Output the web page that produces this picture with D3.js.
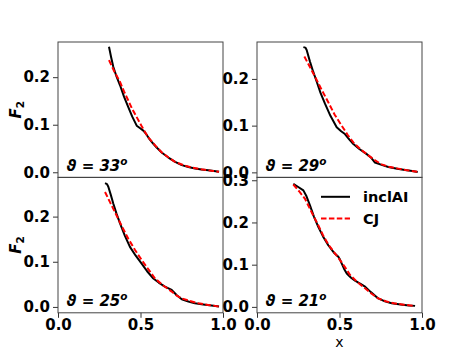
<!DOCTYPE html>
<html><head><meta charset="utf-8">
<script src="https://cdn.jsdelivr.net/npm/d3@7"></script>
<style>
body{margin:0;background:#fff;}
text{font-family:"DejaVu Sans",sans-serif;}
</style></head>
<body><svg id="c" width="469" height="352"></svg>
<script>
// ---- data ----
const angles = ["33", "29", "25", "21"];
const xTicks = [0.0, 0.5, 1.0];
const yTicksA = [0.0, 0.1, 0.2];
const yTicksB = [0.0, 0.1, 0.2, 0.3];
const yLims = [[-0.011, 0.274], [-0.011, 0.279], [-0.013, 0.287], [-0.014, 0.307]];

const incl33_x = [0.309,0.322,0.335,0.355,0.376,0.40,0.426,0.45,0.477,0.50,0.517,0.535,0.55,0.575,0.598,0.63,0.669,0.71,0.75,0.79,0.83,0.87,0.911,0.945,0.976];
const incl33_y = [0.264,0.242,0.222,0.201,0.183,0.159,0.137,0.117,0.098,0.092,0.0877,0.080,0.072,0.061,0.052,0.041,0.031,0.022,0.015,0.011,0.0078,0.0058,0.0042,0.0028,0.001];
const cj33_x = [0.309,0.34,0.376,0.40,0.426,0.45,0.477,0.51,0.547,0.59,0.628,0.67,0.709,0.76,0.81,0.86,0.9,0.94,0.976];
const cj33_y = [0.236,0.213,0.19,0.17,0.151,0.133,0.116,0.095,0.0735,0.056,0.042,0.031,0.022,0.015,0.010,0.0068,0.0045,0.0028,0.001];

const incl29_x = [0.281,0.293,0.301,0.321,0.34,0.362,0.385,0.412,0.445,0.483,0.51,0.533,0.56,0.584,0.62,0.665,0.69,0.715,0.755,0.796,0.85,0.897,0.94,0.974];
const incl29_y = [0.268,0.267,0.262,0.237,0.216,0.194,0.170,0.147,0.121,0.0965,0.088,0.082,0.070,0.0605,0.050,0.039,0.032,0.021,0.016,0.0116,0.0078,0.005,0.003,0.001];
const cj29_x = [0.287,0.32,0.352,0.39,0.432,0.47,0.513,0.55,0.584,0.625,0.665,0.71,0.756,0.80,0.856,0.91,0.974];
const cj29_y = [0.248,0.226,0.2045,0.178,0.150,0.124,0.100,0.080,0.064,0.050,0.039,0.027,0.017,0.012,0.008,0.0045,0.001];

const incl25_x = [0.285,0.297,0.305,0.32,0.335,0.355,0.376,0.405,0.436,0.47,0.507,0.54,0.578,0.61,0.648,0.67,0.689,0.72,0.75,0.79,0.83,0.88,0.93,0.976];
const incl25_y = [0.274,0.272,0.266,0.248,0.229,0.206,0.185,0.158,0.133,0.114,0.096,0.079,0.063,0.054,0.045,0.041,0.0375,0.026,0.017,0.012,0.008,0.0055,0.003,0.001];
const cj25_x = [0.285,0.315,0.345,0.385,0.426,0.465,0.507,0.548,0.588,0.64,0.689,0.72,0.75,0.80,0.851,0.91,0.976];
const cj25_y = [0.2545,0.232,0.21,0.18,0.151,0.127,0.104,0.083,0.063,0.047,0.034,0.025,0.019,0.013,0.008,0.0045,0.001];

const incl21_x = [0.22,0.25,0.281,0.30,0.321,0.345,0.372,0.40,0.432,0.465,0.493,0.503,0.513,0.528,0.544,0.57,0.594,0.625,0.655,0.69,0.735,0.775,0.816,0.87,0.92,0.958];
const incl21_y = [0.2915,0.284,0.276,0.262,0.2405,0.214,0.189,0.167,0.146,0.129,0.1186,0.112,0.103,0.090,0.079,0.069,0.062,0.055,0.048,0.035,0.020,0.013,0.0085,0.0055,0.0035,0.0024];
const cj21_x = [0.22,0.255,0.291,0.33,0.372,0.40,0.432,0.47,0.503,0.535,0.564,0.61,0.655,0.695,0.735,0.78,0.83,0.89,0.958];
const cj21_y = [0.29,0.274,0.256,0.225,0.193,0.170,0.148,0.128,0.111,0.093,0.0755,0.058,0.044,0.031,0.020,0.0135,0.0085,0.005,0.0024];

const seriesNames = ["inclAI", "CJ"];

// ---- layout ----
const svg = d3.select("#c");
const cols = [58, 257], rows = [42, 177.3], pw = 165, ph = 135.5;
const panels = [
  {a: angles[0], inc: [incl33_x, incl33_y], cj: [cj33_x, cj33_y], yl: yLims[0], yt: yTicksA, c: 0, r: 0},
  {a: angles[1], inc: [incl29_x, incl29_y], cj: [cj29_x, cj29_y], yl: yLims[1], yt: yTicksA, c: 1, r: 0},
  {a: angles[2], inc: [incl25_x, incl25_y], cj: [cj25_x, cj25_y], yl: yLims[2], yt: yTicksA, c: 0, r: 1},
  {a: angles[3], inc: [incl21_x, incl21_y], cj: [cj21_x, cj21_y], yl: yLims[3], yt: yTicksB, c: 1, r: 1},
];
const fmt = d3.format(".1f");
const FS = 15;

panels.forEach((p, i) => {
  const x0 = cols[p.c], y0 = rows[p.r];
  const g = svg.append("g").attr("transform", `translate(${x0},${y0})`);
  const xs = d3.scaleLinear().domain([0, 1]).range([0, pw]);
  const ys = d3.scaleLinear().domain(p.yl).range([ph, 0]);
  const line = d3.line().x(d => xs(d[0])).y(d => ys(d[1]));
  const zip = arr => arr[0].map((v, k) => [v, arr[1][k]]);

  g.append("path").datum(zip(p.inc)).attr("d", line)
    .attr("fill", "none").attr("stroke", "#000").attr("stroke-width", 2).attr("stroke-linejoin", "round");
  g.append("path").datum(zip(p.cj)).attr("d", line)
    .attr("fill", "none").attr("stroke", "#ff0000").attr("stroke-width", 2).attr("stroke-dasharray", "5.5,2.4");

  // y axis
  const ya = g.append("g").call(d3.axisLeft(ys).tickValues(p.yt).tickFormat(fmt).tickSize(5).tickPadding(3));
  ya.select(".domain").remove();
  ya.selectAll("line").attr("stroke", "#333");
  ya.selectAll("text").attr("font-size", FS).attr("font-weight", "bold").attr("fill", "#000");

  if (p.r === 1) {
    const xa = g.append("g").attr("transform", `translate(0,${ph})`)
      .call(d3.axisBottom(xs).tickValues(xTicks).tickFormat(fmt).tickSize(5).tickPadding(2));
    xa.select(".domain").remove();
    xa.selectAll("line").attr("stroke", "#333");
    xa.selectAll("text").attr("font-size", FS).attr("font-weight", "bold").attr("fill", "#000");
  }

  // frame
  g.append("rect").attr("x", 0).attr("y", 0).attr("width", pw).attr("height", ph)
    .attr("fill", "none").attr("stroke", "#444").attr("stroke-width", 1);

  // annotation
  const t = g.append("text").attr("x", 8.5).attr("y", ph - 7)
    .attr("font-size", FS).attr("font-weight", "bold").attr("fill", "#000");
  t.append("tspan").attr("font-style", "italic").text("ϑ");
  t.append("tspan").text(" = ");
  t.append("tspan").attr("font-style", "italic").text(p.a);
  t.append("tspan").attr("font-style", "italic").attr("font-size", 10.5).attr("dy", -5.5).text("o");

  // y label
  if (p.c === 0) {
    const yl = svg.append("text").attr("transform", `translate(21,${y0 + ph / 2}) rotate(-90)`)
      .attr("text-anchor", "middle").attr("font-size", FS).attr("font-weight", "bold").attr("fill", "#000");
    yl.append("tspan").attr("font-style", "italic").text("F");
    yl.append("tspan").attr("font-size", 10.5).attr("dy", 3).text("2");
  }

  // legend
  if (i === 3) {
    const lg = g.append("g");
    const items = [{n: seriesNames[0], c: "#000", d: null}, {n: seriesNames[1], c: "#ff0000", d: "5.5,2.4"}];
    items.forEach((it, k) => {
      const yy = 19.5 + k * 21.7;
      lg.append("line").attr("x1", 64).attr("x2", 93).attr("y1", yy).attr("y2", yy)
        .attr("stroke", it.c).attr("stroke-width", 2).attr("stroke-dasharray", it.d);
      lg.append("text").attr("x", 106).attr("y", yy + 5.3).attr("font-size", 14.5).attr("font-weight", "bold")
        .attr("fill", "#000").text(it.n);
    });
  }
});

// x label
svg.append("text").attr("x", cols[1] + pw / 2).attr("y", 347).attr("text-anchor", "middle")
  .attr("font-size", 14).attr("fill", "#000").text("x");
</script></body></html>
